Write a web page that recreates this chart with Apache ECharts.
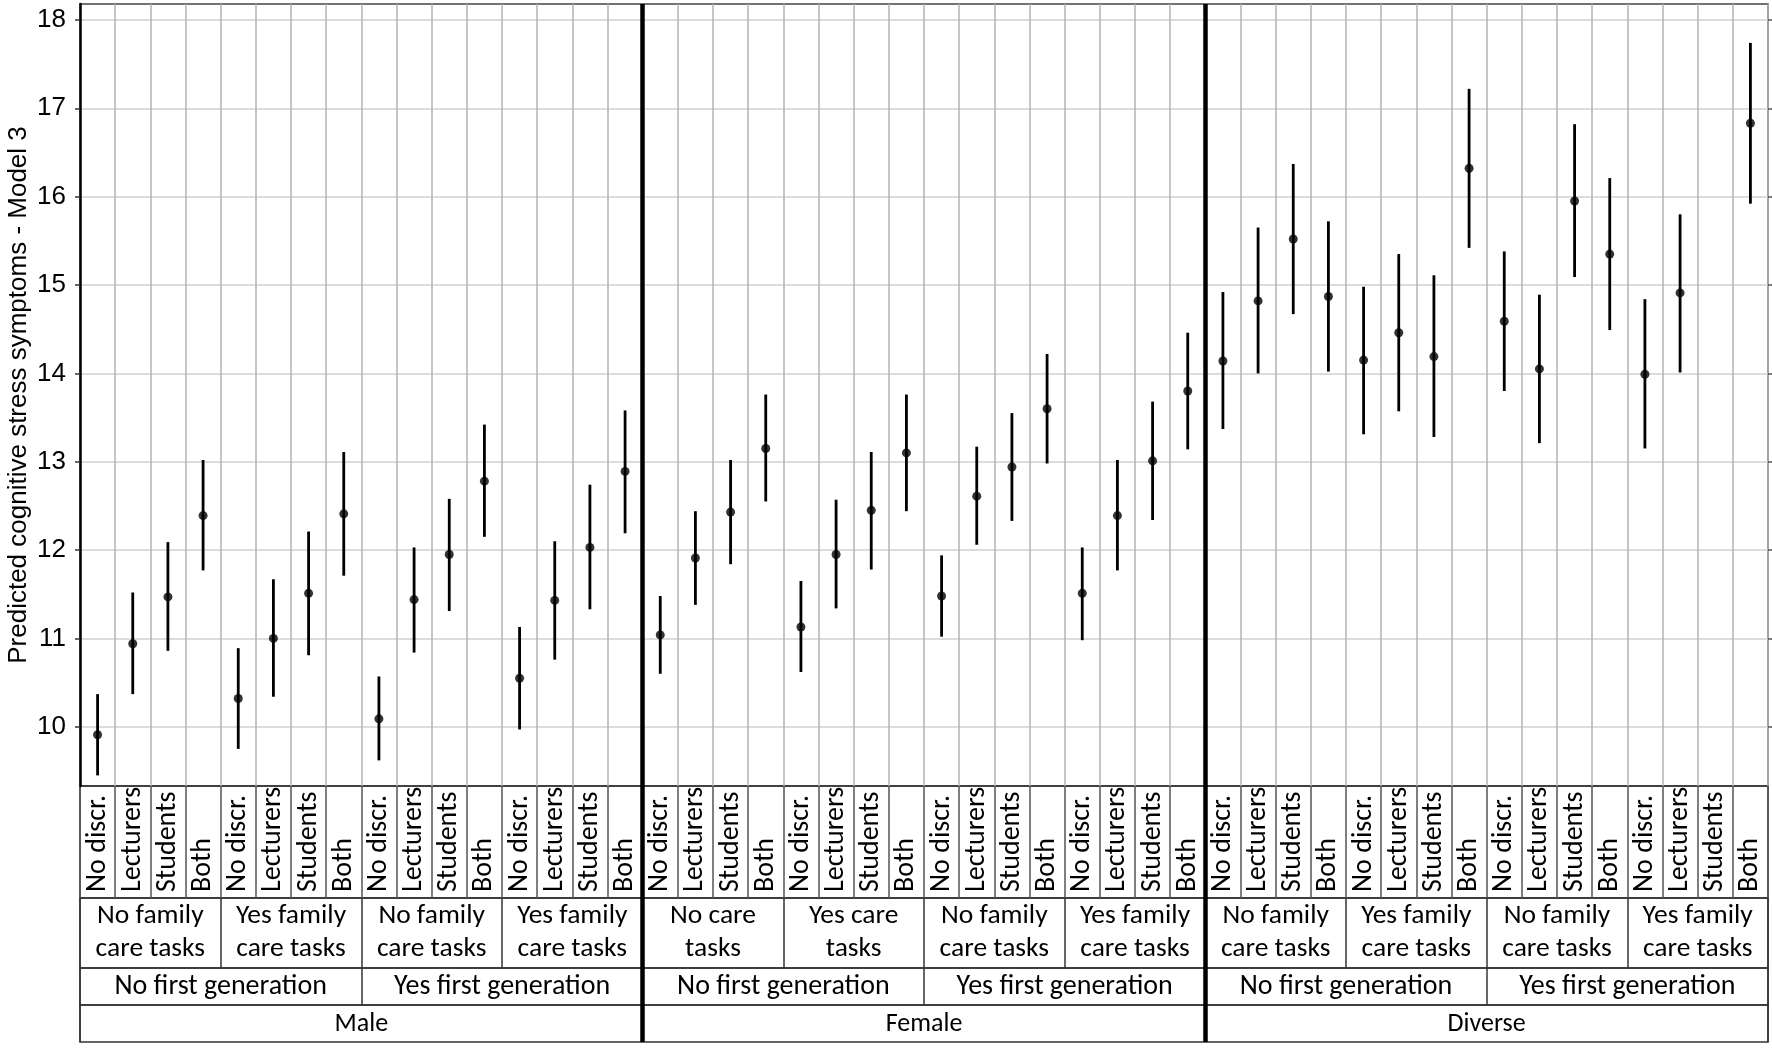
<!DOCTYPE html>
<html>
<head>
<meta charset="utf-8">
<script src="https://cdn.jsdelivr.net/npm/echarts@6/dist/echarts.min.js"></script>
<style>
  html, body { margin: 0; padding: 0; background: #fff; }
  #chart { width: 1772px; height: 1049px; }
</style>
</head>
<body>
<div id="chart"></div>
<script>
// labels of the four table rows under the plot
const discr = ['No discr.', 'Lecturers', 'Students', 'Both'];
const careTasks = [
  'No family\ncare tasks', 'Yes family\ncare tasks', 'No family\ncare tasks', 'Yes family\ncare tasks',
  'No care\ntasks', 'Yes care\ntasks', 'No family\ncare tasks', 'Yes family\ncare tasks',
  'No family\ncare tasks', 'Yes family\ncare tasks', 'No family\ncare tasks', 'Yes family\ncare tasks'
];
const firstGen = [
  'No first generation', 'Yes first generation',
  'No first generation', 'Yes first generation',
  'No first generation', 'Yes first generation'
];
const genders = ['Male', 'Female', 'Diverse'];

// predicted values with 95% CI, in the order of the 48 columns
const predicted = [
  9.91, 10.94, 11.47, 12.39, 10.32, 11.00, 11.51, 12.41,
  10.09, 11.44, 11.95, 12.78, 10.55, 11.43, 12.03, 12.89,
  11.04, 11.91, 12.43, 13.15, 11.13, 11.95, 12.45, 13.10,
  11.48, 12.61, 12.94, 13.60, 11.51, 12.39, 13.01, 13.80,
  14.14, 14.82, 15.52, 14.87, 14.15, 14.46, 14.19, 16.32,
  14.59, 14.05, 15.95, 15.35, 13.99, 14.91, null, 16.83
];
const lower = [
  9.45, 10.37, 10.86, 11.77, 9.75, 10.34, 10.81, 11.71,
  9.62, 10.84, 11.31, 12.15, 9.97, 10.76, 11.33, 12.19,
  10.60, 11.38, 11.84, 12.55, 10.62, 11.34, 11.78, 12.44,
  11.02, 12.06, 12.33, 12.98, 10.98, 11.77, 12.34, 13.14,
  13.37, 14.00, 14.67, 14.02, 13.31, 13.57, 13.28, 15.42,
  13.80, 13.21, 15.09, 14.49, 13.15, 14.01, null, 15.92
];
const upper = [
  10.37, 11.52, 12.09, 13.02, 10.89, 11.67, 12.21, 13.11,
  10.57, 12.03, 12.58, 13.42, 11.13, 12.10, 12.74, 13.58,
  11.48, 12.44, 13.02, 13.76, 11.65, 12.57, 13.11, 13.76,
  11.94, 13.17, 13.55, 14.22, 12.03, 13.02, 13.68, 14.46,
  14.92, 15.65, 16.37, 15.72, 14.98, 15.35, 15.11, 17.22,
  15.38, 14.89, 16.82, 16.21, 14.84, 15.80, null, 17.74
];
const yTicks = [10, 11, 12, 13, 14, 15, 16, 17, 18];

const columns = [];
for (let i = 0; i < 12; i++) columns.push(...discr);

const ciData = [];
predicted.forEach((v, i) => {
  if (v != null) ciData.push([i, lower[i], upper[i]]);
});
const pointData = predicted.map((v) => (v == null ? '-' : v));

const tableFont = 'Carlito, Lato, sans-serif';
const axisFont = '"Liberation Sans", Arial, sans-serif';
const L = 80, W = 1688;
const rows = [
  { top: 786, height: 112 },
  { top: 898, height: 70 },
  { top: 968, height: 37 },
  { top: 1005, height: 37 }
];

const chart = echarts.init(document.getElementById('chart'));

const grids = [
  { left: L, width: W, top: 4, height: 782, show: true, borderColor: '#444', borderWidth: 1.5, outerBoundsMode: 'none' }
].concat(rows.map((r) => ({
  left: L, width: W, top: r.top, height: r.height,
  show: true, borderColor: '#333', borderWidth: 1.5, outerBoundsMode: 'none'
}))).concat([{ left: L, width: W, top: 4, height: 1038, outerBoundsMode: 'none' }]);

function tableAxis(gridIndex, data, label, lineColor) {
  return {
    type: 'category',
    gridIndex: gridIndex,
    data: data,
    position: 'bottom',
    boundaryGap: true,
    axisLine: { show: false },
    axisTick: { show: false },
    splitLine: { show: true, interval: 0, lineStyle: { color: lineColor, width: 1.5 } },
    axisLabel: Object.assign({
      inside: true,
      interval: 0,
      color: '#000',
      fontFamily: tableFont,
      fontSize: 28
    }, label)
  };
}

chart.setOption({
  animation: false,
  grid: grids,
  xAxis: [
    {
      type: 'category',
      gridIndex: 0,
      data: columns,
      boundaryGap: true,
      axisLine: { show: false },
      axisTick: { show: false },
      axisLabel: { show: false },
      splitLine: { show: true, interval: 0, lineStyle: { color: '#b3b3b3', width: 1.5 } }
    },
    tableAxis(1, columns, { rotate: 90, margin: 6 }, '#555'),
    tableAxis(2, careTasks, { margin: 35, verticalAlign: 'middle', lineHeight: 33, fontSize: 27.5 }, '#333'),
    tableAxis(3, firstGen, { margin: 18, verticalAlign: 'middle' }, '#333'),
    tableAxis(4, genders, { margin: 18, verticalAlign: 'middle', fontSize: 26 }, '#333'),
    {
      type: 'category',
      gridIndex: 5,
      data: genders,
      boundaryGap: true,
      axisLine: { show: false },
      axisTick: { show: false },
      axisLabel: { show: false },
      splitLine: {
        show: true, interval: 0, showMinLine: false, showMaxLine: false,
        lineStyle: { color: '#000', width: 4.5 }
      },
      z: 5
    }
  ],
  yAxis: [
    {
      type: 'value',
      gridIndex: 0,
      min: 9.33,
      max: 18.18,
      name: 'Predicted cognitive stress symptoms - Model 3',
      nameLocation: 'middle',
      nameRotate: 90,
      nameGap: 48,
      nameMoveOverlap: false,
      nameTextStyle: { fontFamily: axisFont, fontSize: 26, color: '#000' },
      axisLine: { show: true, lineStyle: { color: '#000', width: 2.5 } },
      axisTick: { show: true, length: 5, customValues: yTicks, lineStyle: { color: '#333', width: 1.5 } },
      axisLabel: {
        customValues: yTicks, margin: 14, color: '#000',
        fontFamily: axisFont, fontSize: 26
      },
      splitLine: { show: true, lineStyle: { color: '#dcdcdc', width: 2 } }
    },
    {
      type: 'value',
      gridIndex: 0,
      position: 'right',
      min: 9.33,
      max: 18.18,
      axisLine: { show: false },
      axisTick: { show: true, length: 4, customValues: yTicks, lineStyle: { color: '#555', width: 1.5 } },
      axisLabel: { show: false },
      splitLine: { show: false }
    },
    { type: 'value', gridIndex: 1, show: false },
    { type: 'value', gridIndex: 2, show: false },
    { type: 'value', gridIndex: 3, show: false },
    { type: 'value', gridIndex: 4, show: false },
    { type: 'value', gridIndex: 5, show: false }
  ],
  series: [
    {
      type: 'custom',
      xAxisIndex: 0,
      yAxisIndex: 0,
      data: ciData,
      encode: { x: 0, y: [1, 2] },
      renderItem: function (params, api) {
        const x = api.value(0);
        const p1 = api.coord([x, api.value(1)]);
        const p2 = api.coord([x, api.value(2)]);
        return {
          type: 'line',
          shape: { x1: p1[0], y1: p1[1], x2: p2[0], y2: p2[1] },
          style: { stroke: '#000', lineWidth: 2.8 }
        };
      },
      z: 3
    },
    {
      type: 'scatter',
      xAxisIndex: 0,
      yAxisIndex: 0,
      data: pointData,
      symbol: 'circle',
      symbolSize: 9,
      itemStyle: { color: '#000' },
      z: 4
    }
  ]
});
</script>
</body>
</html>
